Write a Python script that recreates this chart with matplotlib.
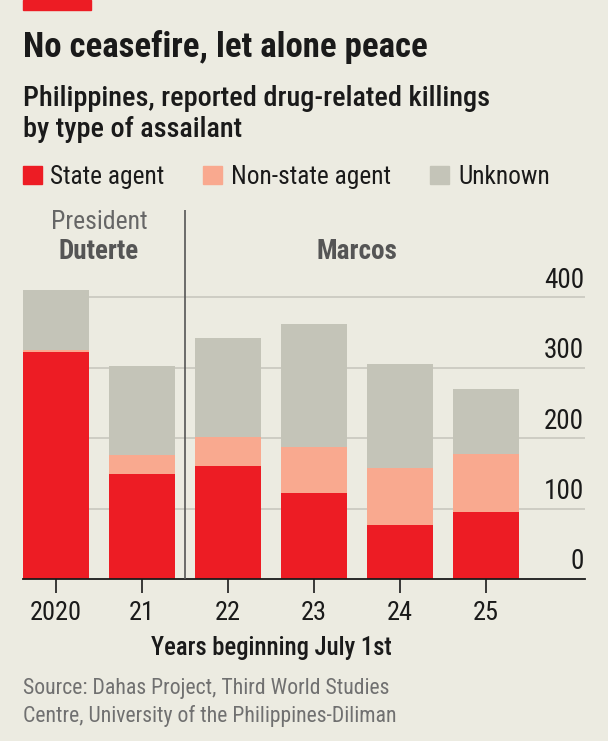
import matplotlib.pyplot as plt
import matplotlib.patches as patches
from matplotlib import font_manager
import numpy as np

# --- Data ---
years = ['2020', '21', '22', '23', '24', '25']
state_agent = [323, 149, 160, 122, 77, 95]
non_state_agent = [2, 27, 41, 65, 80, 83]
unknown = [86, 127, 141, 175, 148, 92]
y_ticks = [0, 100, 200, 300, 400]

# --- Style ---
BG = '#ecebe1'
RED = '#ed1c24'
SALMON = '#f9a98f'
GREY = '#c4c4b8'
TEXT = '#1a1a1a'
GRID = '#c9c8bf'

names = {f.name for f in font_manager.fontManager.ttflist}
FONT = [f for f in ['Roboto Condensed', 'Liberation Sans Narrow', 'Roboto', 'DejaVu Sans'] if f in names]
plt.rcParams['font.family'] = FONT

W, H = 608, 741
fig = plt.figure(figsize=(W / 100, H / 100), dpi=100, facecolor=BG)


def fx(px):
    return px / W


def fy(py):
    return 1 - py / H


# axes placed in pixel terms
ax = fig.add_axes([fx(23), fy(579), fx(562), (579 - 210) / H])
ax.set_facecolor(BG)
ax.set_xlim(-0.386, 6.15)
ax.set_ylim(0, 524)

x = np.arange(len(years))
width = 0.77
for v in y_ticks[1:]:
    ax.axhline(v, color=GRID, lw=1.2, zorder=0)

s = np.array(state_agent)
n = np.array(non_state_agent)
u = np.array(unknown)
ax.bar(x, s, width, color=RED, zorder=2)
ax.bar(x, n, width, bottom=s, color=SALMON, zorder=2)
ax.bar(x, u, width, bottom=s + n, color=GREY, zorder=2)

# y labels on the right, sitting on gridlines
for v in y_ticks:
    ax.text(6.14, v + 5, str(v), ha='right', va='bottom', fontsize=19.5, color=TEXT, zorder=3)

# divider between presidents
ax.axvline(1.5, color='#555555', lw=1.2, zorder=3)

for sp in ['top', 'right', 'left']:
    ax.spines[sp].set_visible(False)
ax.spines['bottom'].set_color(TEXT)
ax.spines['bottom'].set_linewidth(1.3)
ax.set_yticks([])
ax.set_xticks(x)
ax.set_xticklabels(years, fontsize=19, color=TEXT)
ax.tick_params(axis='x', length=10, width=1.2, color=TEXT, pad=6)

# president labels
fig.text(fx(99), fy(229), 'President', ha='center', va='baseline', fontsize=18.5, color='#666666')
fig.text(fx(99), fy(259), 'Duterte', ha='center', va='baseline', fontsize=19.5, color='#555555',
         fontweight='bold')
fig.text(fx(357), fy(259), 'Marcos', ha='center', va='baseline', fontsize=19.5, color='#555555',
         fontweight='bold')

# headings
fig.patches.append(patches.Rectangle((fx(23), fy(10)), fx(68), 10 / H, transform=fig.transFigure,
                                     color=RED, zorder=5))
fig.text(fx(23), fy(57), 'No ceasefire, let alone peace', ha='left', va='baseline',
         fontsize=25, fontweight='bold', color=TEXT)
fig.text(fx(23), fy(106), 'Philippines, reported drug-related killings', ha='left', va='baseline',
         fontsize=20.3, fontweight='medium', color=TEXT)
fig.text(fx(23), fy(137), 'by type of assailant', ha='left', va='baseline', fontsize=20.3,
         fontweight='medium', color=TEXT)

# legend
legend_items = [('State agent', RED, 23, 50), ('Non-state agent', SALMON, 203, 231),
                ('Unknown', GREY, 430, 458)]
for label, col, sx, tx in legend_items:
    fig.patches.append(patches.Rectangle((fx(sx), fy(184)), fx(19), 18 / H, transform=fig.transFigure,
                                         color=col))
    fig.text(fx(tx), fy(184), label, ha='left', va='baseline', fontsize=18.3, color=TEXT)

# x label and source
fig.text(fx(271), fy(655), 'Years beginning July 1st', ha='center', va='baseline', fontsize=17.7,
         color=TEXT, fontweight='medium')
fig.text(fx(23), fy(694), 'Source: Dahas Project, Third World Studies', ha='left', va='baseline',
         fontsize=15.7, color='#707070')
fig.text(fx(23), fy(722), 'Centre, University of the Philippines-Diliman', ha='left', va='baseline',
         fontsize=15.7, color='#707070')

fig.savefig('out.png', dpi=100, facecolor=BG)
